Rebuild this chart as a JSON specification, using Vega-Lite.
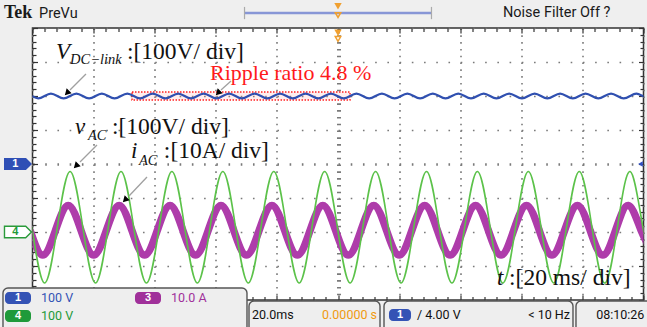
{
  "$schema": "https://vega.github.io/schema/vega-lite/v6.json",
  "width": 611,
  "height": 272,
  "autosize": {"type": "none"},
  "padding": {"left": 32.5, "top": 28, "right": 3.5, "bottom": 27},
  "background": "#efefef",
  "view": {"fill": "#ffffff", "stroke": "#333333", "strokeWidth": 1.5},
  "datasets": {
    "vdc": [
      {"t":-100.22,"d":2.0},{"t":-98.13,"d":1.93},{"t":-96.05,"d":2.0},{"t":-93.97,"d":2.07},{"t":-91.88,"d":2.0},
      {"t":-89.8,"d":1.93},{"t":-87.72,"d":2.0},{"t":-85.63,"d":2.07},{"t":-83.55,"d":2.0},{"t":-81.47,"d":1.93},{"t":-79.38,"d":2.0},{"t":-77.3,"d":2.07},{"t":-75.22,"d":2.0},{"t":-73.13,"d":1.93},{"t":-71.05,"d":2.0},{"t":-68.97,"d":2.07},{"t":-66.88,"d":2.0},
      {"t":-64.8,"d":1.93},{"t":-62.72,"d":2.0},{"t":-60.63,"d":2.07},{"t":-58.55,"d":2.0},{"t":-56.47,"d":1.93},{"t":-54.38,"d":2.0},{"t":-52.3,"d":2.07},{"t":-50.22,"d":2.0},{"t":-48.13,"d":1.93},{"t":-46.05,"d":2.0},{"t":-43.97,"d":2.07},{"t":-41.88,"d":2.0},
      {"t":-39.8,"d":1.93},{"t":-37.72,"d":2.0},{"t":-35.63,"d":2.07},{"t":-33.55,"d":2.0},{"t":-31.47,"d":1.93},{"t":-29.38,"d":2.0},{"t":-27.3,"d":2.07},{"t":-25.22,"d":2.0},{"t":-23.13,"d":1.93},{"t":-21.05,"d":2.0},{"t":-18.97,"d":2.07},{"t":-16.88,"d":2.0},
      {"t":-14.8,"d":1.93},{"t":-12.72,"d":2.0},{"t":-10.63,"d":2.07},{"t":-8.55,"d":2.0},{"t":-6.47,"d":1.93},{"t":-4.38,"d":2.0},{"t":-2.3,"d":2.07},{"t":-0.22,"d":2.0},{"t":1.87,"d":1.93},{"t":3.95,"d":2.0},{"t":6.03,"d":2.07},{"t":8.12,"d":2.0},
      {"t":10.2,"d":1.93},{"t":12.28,"d":2.0},{"t":14.37,"d":2.07},{"t":16.45,"d":2.0},{"t":18.53,"d":1.93},{"t":20.62,"d":2.0},{"t":22.7,"d":2.07},{"t":24.78,"d":2.0},{"t":26.87,"d":1.93},{"t":28.95,"d":2.0},{"t":31.03,"d":2.07},{"t":33.12,"d":2.0},
      {"t":35.2,"d":1.93},{"t":37.28,"d":2.0},{"t":39.37,"d":2.07},{"t":41.45,"d":2.0},{"t":43.53,"d":1.93},{"t":45.62,"d":2.0},{"t":47.7,"d":2.07},{"t":49.78,"d":2.0},{"t":51.87,"d":1.93},{"t":53.95,"d":2.0},{"t":56.03,"d":2.07},{"t":58.12,"d":2.0},
      {"t":60.2,"d":1.93},{"t":62.28,"d":2.0},{"t":64.37,"d":2.07},{"t":66.45,"d":2.0},{"t":68.53,"d":1.93},{"t":70.62,"d":2.0},{"t":72.7,"d":2.07},{"t":74.78,"d":2.0},{"t":76.87,"d":1.93},{"t":78.95,"d":2.0},{"t":81.03,"d":2.07},{"t":83.12,"d":2.0},
      {"t":85.2,"d":1.93},{"t":87.28,"d":2.0},{"t":89.37,"d":2.07},{"t":91.45,"d":2.0},{"t":93.53,"d":1.93},{"t":95.62,"d":2.0},{"t":97.7,"d":2.07},{"t":99.78,"d":2.0},{"t":101.87,"d":1.93}
    ],
    "vac": [
      {"t":-100.2,"d":-1.86},{"t":-96.03,"d":-3.5},{"t":-91.87,"d":-1.86},
      {"t":-87.7,"d":-0.22},{"t":-83.53,"d":-1.86},{"t":-79.37,"d":-3.5},{"t":-75.2,"d":-1.86},
      {"t":-71.03,"d":-0.22},{"t":-66.87,"d":-1.86},{"t":-62.7,"d":-3.5},{"t":-58.53,"d":-1.86},
      {"t":-54.37,"d":-0.22},{"t":-50.2,"d":-1.86},{"t":-46.03,"d":-3.5},{"t":-41.87,"d":-1.86},
      {"t":-37.7,"d":-0.22},{"t":-33.53,"d":-1.86},{"t":-29.37,"d":-3.5},{"t":-25.2,"d":-1.86},
      {"t":-21.03,"d":-0.22},{"t":-16.87,"d":-1.86},{"t":-12.7,"d":-3.5},{"t":-8.53,"d":-1.86},
      {"t":-4.37,"d":-0.22},{"t":-0.2,"d":-1.86},{"t":3.97,"d":-3.5},{"t":8.13,"d":-1.86},
      {"t":12.3,"d":-0.22},{"t":16.47,"d":-1.86},{"t":20.63,"d":-3.5},{"t":24.8,"d":-1.86},
      {"t":28.97,"d":-0.22},{"t":33.13,"d":-1.86},{"t":37.3,"d":-3.5},{"t":41.47,"d":-1.86},
      {"t":45.63,"d":-0.22},{"t":49.8,"d":-1.86},{"t":53.97,"d":-3.5},{"t":58.13,"d":-1.86},
      {"t":62.3,"d":-0.22},{"t":66.47,"d":-1.86},{"t":70.63,"d":-3.5},{"t":74.8,"d":-1.86},
      {"t":78.97,"d":-0.22},{"t":83.13,"d":-1.86},{"t":87.3,"d":-3.5},{"t":91.47,"d":-1.86},
      {"t":95.63,"d":-0.22},{"t":99.8,"d":-1.86},{"t":103.97,"d":-3.5}
    ],
    "iac": [
      {"t":-100.8,"d":-1.95},{"t":-96.63,"d":-2.68},{"t":-92.47,"d":-1.95},
      {"t":-88.3,"d":-1.22},{"t":-84.13,"d":-1.95},{"t":-79.97,"d":-2.68},{"t":-75.8,"d":-1.95},
      {"t":-71.63,"d":-1.22},{"t":-67.47,"d":-1.95},{"t":-63.3,"d":-2.68},{"t":-59.13,"d":-1.95},
      {"t":-54.97,"d":-1.22},{"t":-50.8,"d":-1.95},{"t":-46.63,"d":-2.68},{"t":-42.47,"d":-1.95},
      {"t":-38.3,"d":-1.22},{"t":-34.13,"d":-1.95},{"t":-29.97,"d":-2.68},{"t":-25.8,"d":-1.95},
      {"t":-21.63,"d":-1.22},{"t":-17.47,"d":-1.95},{"t":-13.3,"d":-2.68},{"t":-9.13,"d":-1.95},
      {"t":-4.97,"d":-1.22},{"t":-0.8,"d":-1.95},{"t":3.37,"d":-2.68},{"t":7.53,"d":-1.95},
      {"t":11.7,"d":-1.22},{"t":15.87,"d":-1.95},{"t":20.03,"d":-2.68},{"t":24.2,"d":-1.95},
      {"t":28.37,"d":-1.22},{"t":32.53,"d":-1.95},{"t":36.7,"d":-2.68},{"t":40.87,"d":-1.95},
      {"t":45.03,"d":-1.22},{"t":49.2,"d":-1.95},{"t":53.37,"d":-2.68},{"t":57.53,"d":-1.95},
      {"t":61.7,"d":-1.22},{"t":65.87,"d":-1.95},{"t":70.03,"d":-2.68},{"t":74.2,"d":-1.95},
      {"t":78.37,"d":-1.22},{"t":82.53,"d":-1.95},{"t":86.7,"d":-2.68},{"t":90.87,"d":-1.95},
      {"t":95.03,"d":-1.22},{"t":99.2,"d":-1.95},{"t":103.37,"d":-2.68}
    ],
    "redbox": [{"t1":-67.43,"t2":3.93,"d1":2.118,"d2":1.882}],
    "arrows": [
      {"t1":-82.49,"d1":2.647,"t2":-87.73,"d2":2.176,"th":-88.71,"dh":2.088},
      {"t1":-35.02,"d1":2.441,"t2":-38.3,"d2":2.176,"th":-39.28,"dh":2.088},
      {"t1":-78.89,"d1":0.559,"t2":-84.45,"d2":0.059,"th":-85.76,"dh":-0.059},
      {"t1":-62.52,"d1":-0.382,"t2":-68.41,"d2":-0.941,"th":-69.72,"dh":-1.059}
    ],
    "ann": [
      {"t":-69.1,"d":3.088,"s":":[100V/ div]"},
      {"t":-74.0,"d":0.882,"s":":[100V/ div]"},
      {"t":-57.0,"d":0.176,"s":":[10A/ div]"},
      {"t":56.0,"d":-3.559,"s":":[20 ms/ div]"}
    ],
    "annI": [
      {"t":-92.31,"d":3.088,"s":"V"},
      {"t":-86.09,"d":0.882,"s":"v"},
      {"t":-67.76,"d":0.176,"s":"i"},
      {"t":52.04,"d":-3.559,"s":"t"}
    ],
    "annSub": [
      {"t":-87.73,"d":2.941,"s":"DC−link"},
      {"t":-81.83,"d":0.706,"s":"AC"},
      {"t":-65.14,"d":-0.029,"s":"AC"}
    ],
    "ripple": [{"t":-41.9,"d":2.471,"s":"Ripple ratio 4.8 %"}],
    "tek": [{"t":-109.33,"d":4.294,"s":"Tek"}],
    "hdr": [{"t":-97.87,"d":4.294,"s":"PreVu"},{"t":54.0,"d":4.324,"s":"Noise Filter Off ?"}],
    "bar": [{"t1":-30.6,"t2":30.6,"d":4.441}],
    "brk": [{"t":-30.6,"d1":4.62,"d2":4.26},{"t":30.6,"d1":4.62,"d2":4.26}],
    "trig": [{"t":0,"d":4.64},{"t":0,"d":3.86}],
    "trig2": [{"t":0,"d":4.38},{"t":0,"d":3.68}],
    "ch1": [{"t":-104.75,"d":0}],
    "ch4": [{"t":-104.75,"d":-2}],
    "chtxt": [{"t":-105.6,"d":0,"s":"1","c":"w"},{"t":-105.6,"d":-2,"s":"4","c":"g"}],
    "redge": [{"t":99,"d":0}],
    "panels": [
      {"t1":-109.66,"t2":-29.79,"d1":-3.647,"d2":-4.95},
      {"t1":-29.13,"t2":13.75,"d1":-4.03,"d2":-4.95},
      {"t1":15.06,"t2":76.92,"d1":-4.03,"d2":-4.95},
      {"t1":77.9,"t2":103,"d1":-4.03,"d2":-4.95}
    ],
    "badges": [
      {"t1":-109.0,"t2":-100.49,"d1":-3.765,"d2":-4.118,"c":"b"},
      {"t1":-66.45,"t2":-57.94,"d1":-3.765,"d2":-4.118,"c":"p"},
      {"t1":-109.0,"t2":-100.49,"d1":-4.294,"d2":-4.647,"c":"g"},
      {"t1":16.69,"t2":23.9,"d1":-4.265,"d2":-4.618,"c":"b"}
    ],
    "badgeText": [
      {"t":-104.75,"d":-3.941,"s":"1"},
      {"t":-62.19,"d":-3.941,"s":"3"},
      {"t":-104.75,"d":-4.471,"s":"4"},
      {"t":20.29,"d":-4.441,"s":"1"}
    ],
    "foot": [
      {"t":-97.22,"d":-3.941,"s":"100 V","c":"b"},
      {"t":-54.67,"d":-3.941,"s":"10.0 A","c":"p"},
      {"t":-97.22,"d":-4.471,"s":"100 V","c":"g"},
      {"t":-28.15,"d":-4.441,"s":"20.0ms","c":"k"},
      {"t":25.86,"d":-4.441,"s":"/ 4.00 V","c":"k"},
      {"t":84.5,"d":-4.441,"s":"08:10:26","c":"k"}
    ],
    "footR": [
      {"t":12.77,"d":-4.441,"s":"0.00000 s","c":"o"},
      {"t":75.94,"d":-4.441,"s":"< 10 Hz","c":"k"}
    ]
  },
  "encoding": {
    "x": {"field": "t", "type": "quantitative", "scale": {"domain": [-100, 100], "nice": false, "zero": false}, "axis": null},
    "y": {"field": "d", "type": "quantitative", "scale": {"domain": [-4, 4], "nice": false, "zero": false}, "axis": null}
  },
  "layer": [
    {
      "data": {"name": "redbox"},
      "mark": {"type": "rect", "fill": "#ff9090", "fillOpacity": 0.15, "stroke": "#ff2020", "strokeWidth": 1.4, "strokeDash": [1.5, 1.5]},
      "encoding": {
        "x": {"field": "t1", "type": "quantitative", "scale": {"domain": [-100, 100], "nice": false, "zero": false}, "axis": null},
        "x2": {"field": "t2"},
        "y": {"field": "d1", "type": "quantitative", "scale": {"domain": [-4, 4], "nice": false, "zero": false}, "axis": null},
        "y2": {"field": "d2"}
      }
    },
    {
      "data": {"name": "vdc"},
      "mark": {"type": "line", "interpolate": "natural", "clip": true, "color": "#3050b0", "strokeWidth": 2.2},
      "encoding": {}
    },
    {
      "data": {"name": "iac"},
      "mark": {"type": "line", "interpolate": "natural", "clip": true, "color": "#ae3caa", "strokeWidth": 7.5},
      "encoding": {
        "x": {"field": "t", "type": "quantitative", "scale": {"domain": [-100, 100], "nice": false, "zero": false},
          "axis": {"orient": "top", "values": [-100,-96,-92,-88,-84,-80,-76,-72,-68,-64,-60,-56,-52,-48,-44,-40,-36,-32,-28,-24,-20,-16,-12,-8,-4,0,4,8,12,16,20,24,28,32,36,40,44,48,52,56,60,64,68,72,76,80,84,88,92,96,100],
            "labels": false, "title": null, "domain": false, "grid": false, "ticks": true, "tickColor": "#333333", "tickWidth": 1.2,
            "tickSize": {"condition": {"test": "datum.value % 20 === 0", "value": -5}, "value": -3.5}}},
        "y": {"field": "d", "type": "quantitative", "scale": {"domain": [-4, 4], "nice": false, "zero": false},
          "axis": {"orient": "right", "values": [-4,-3.8,-3.6,-3.4,-3.2,-3,-2.8,-2.6,-2.4,-2.2,-2,-1.8,-1.6,-1.4,-1.2,-1,-0.8,-0.6,-0.4,-0.2,0,0.2,0.4,0.6,0.8,1,1.2,1.4,1.6,1.8,2,2.2,2.4,2.6,2.8,3,3.2,3.4,3.6,3.8,4],
            "labels": false, "title": null, "domain": false, "grid": false, "ticks": true, "tickColor": "#333333", "tickWidth": 1.2,
            "tickSize": {"condition": {"test": "abs(datum.value - round(datum.value)) < 0.01", "value": -5}, "value": -3.5}}}
      }
    },
    {
      "data": {"name": "vac"},
      "mark": {"type": "line", "interpolate": "natural", "clip": true, "color": "#5cc24a", "strokeWidth": 1.6},
      "encoding": {
        "x": {"field": "t", "type": "quantitative", "scale": {"domain": [-100, 100], "nice": false, "zero": false},
          "axis": {"orient": "bottom", "values": [-100,-96,-92,-88,-84,-80,-76,-72,-68,-64,-60,-56,-52,-48,-44,-40,-36,-32,-28,-24,-20,-16,-12,-8,-4,0,4,8,12,16,20,24,28,32,36,40,44,48,52,56,60,64,68,72,76,80,84,88,92,96,100],
            "labels": false, "title": null, "domain": false, "ticks": true, "tickColor": "#333333", "tickWidth": 1.2,
            "tickSize": {"condition": {"test": "datum.value % 20 === 0", "value": -5}, "value": -3.5},
            "grid": true, "gridColor": "#7a7a7a", "gridDash": [1.6, 5.2],
            "gridWidth": {"condition": {"test": "datum.value === 0", "value": 4}, "value": 1.6},
            "gridOpacity": {"condition": {"test": "datum.value % 20 === 0", "value": 1}, "value": 0}}},
        "y": {"field": "d", "type": "quantitative", "scale": {"domain": [-4, 4], "nice": false, "zero": false},
          "axis": {"orient": "left", "values": [-4,-3.8,-3.6,-3.4,-3.2,-3,-2.8,-2.6,-2.4,-2.2,-2,-1.8,-1.6,-1.4,-1.2,-1,-0.8,-0.6,-0.4,-0.2,0,0.2,0.4,0.6,0.8,1,1.2,1.4,1.6,1.8,2,2.2,2.4,2.6,2.8,3,3.2,3.4,3.6,3.8,4],
            "labels": false, "title": null, "domain": false, "ticks": true, "tickColor": "#333333", "tickWidth": 1.2,
            "tickSize": {"condition": {"test": "abs(datum.value - round(datum.value)) < 0.01", "value": -5}, "value": -3.5},
            "grid": true, "gridColor": "#7a7a7a", "gridDash": [1.6, 10.62],
            "gridWidth": {"condition": {"test": "abs(datum.value) < 0.01", "value": 2.6}, "value": 1.6},
            "gridOpacity": {"condition": {"test": "abs(datum.value - round(datum.value)) < 0.01", "value": 1}, "value": 0}}}
      }
    },
    {
      "data": {"name": "arrows"},
      "mark": {"type": "rule", "color": "#a0a0a0", "strokeWidth": 1.3},
      "encoding": {
        "x": {"field": "t1", "type": "quantitative", "scale": {"domain": [-100, 100], "nice": false, "zero": false}, "axis": null},
        "x2": {"field": "t2"},
        "y": {"field": "d1", "type": "quantitative", "scale": {"domain": [-4, 4], "nice": false, "zero": false}, "axis": null},
        "y2": {"field": "d2"}
      }
    },
    {
      "data": {"name": "arrows"},
      "mark": {"type": "point", "shape": "triangle-up", "filled": true, "color": "#000000", "opacity": 1, "size": 50, "angle": 225},
      "encoding": {
        "x": {"field": "th", "type": "quantitative", "scale": {"domain": [-100, 100], "nice": false, "zero": false}, "axis": null},
        "y": {"field": "dh", "type": "quantitative", "scale": {"domain": [-4, 4], "nice": false, "zero": false}, "axis": null}
      }
    },
    {
      "data": {"name": "ann"},
      "mark": {"type": "text", "font": "Liberation Serif", "fontSize": 23.5, "align": "left", "baseline": "alphabetic", "color": "#111111"},
      "encoding": {"text": {"field": "s"}}
    },
    {
      "data": {"name": "annI"},
      "mark": {"type": "text", "font": "Liberation Serif", "fontSize": 23, "fontStyle": "italic", "align": "left", "baseline": "alphabetic", "color": "#111111"},
      "encoding": {"text": {"field": "s"}}
    },
    {
      "data": {"name": "annSub"},
      "mark": {"type": "text", "font": "Liberation Serif", "fontSize": 14.5, "fontStyle": "italic", "align": "left", "baseline": "alphabetic", "color": "#111111"},
      "encoding": {"text": {"field": "s"}}
    },
    {
      "data": {"name": "ripple"},
      "mark": {"type": "text", "font": "Liberation Serif", "fontSize": 22, "align": "left", "baseline": "alphabetic", "color": "#ff1a1a"},
      "encoding": {"text": {"field": "s"}}
    },
    {
      "data": {"name": "tek"},
      "mark": {"type": "text", "font": "Liberation Serif", "fontSize": 18, "fontWeight": "bold", "align": "left", "baseline": "alphabetic", "color": "#1a1a1a"},
      "encoding": {"text": {"field": "s"}}
    },
    {
      "data": {"name": "hdr"},
      "mark": {"type": "text", "font": "Roboto", "fontSize": 14.5, "align": "left", "baseline": "alphabetic", "color": "#1a1a1a"},
      "encoding": {"text": {"field": "s"}}
    },
    {
      "data": {"name": "bar"},
      "mark": {"type": "rule", "color": "#8796d6", "strokeWidth": 2.5},
      "encoding": {
        "x": {"field": "t1", "type": "quantitative", "scale": {"domain": [-100, 100], "nice": false, "zero": false}, "axis": null},
        "x2": {"field": "t2"}
      }
    },
    {
      "data": {"name": "brk"},
      "mark": {"type": "rule", "color": "#aaaaaa", "strokeWidth": 1.2},
      "encoding": {
        "y": {"field": "d1", "type": "quantitative", "scale": {"domain": [-4, 4], "nice": false, "zero": false}, "axis": null},
        "y2": {"field": "d2"}
      }
    },
    {
      "data": {"name": "trig"},
      "mark": {"type": "point", "shape": "triangle-down", "filled": true, "color": "#f0a030", "opacity": 1, "size": 55}
    },
    {
      "data": {"name": "trig2"},
      "mark": {"type": "point", "shape": "triangle-down", "filled": false, "color": "#f0a030", "opacity": 1, "size": 30, "strokeWidth": 1.5}
    },
    {
      "data": {"name": "ch1"},
      "mark": {"type": "point", "shape": "M-1,-0.43L0.57,-0.43L1,0L0.57,0.43L-1,0.43Z", "filled": true, "color": "#2f4fb5", "opacity": 1, "size": 784}
    },
    {
      "data": {"name": "ch4"},
      "mark": {"type": "point", "shape": "M-1,-0.43L0.57,-0.43L1,0L0.57,0.43L-1,0.43Z", "filled": true, "fill": "#ffffff", "stroke": "#2a9a3a", "strokeWidth": 1.4, "opacity": 1, "size": 729}
    },
    {
      "data": {"name": "chtxt"},
      "mark": {"type": "text", "font": "Liberation Sans", "fontSize": 11, "fontWeight": "bold", "align": "center", "baseline": "middle"},
      "encoding": {
        "text": {"field": "s"},
        "color": {"field": "c", "type": "nominal", "scale": {"domain": ["b","p","g","k","o","w"], "range": ["#3453b5","#a0309a","#1f9a3a","#111111","#f09a10","#ffffff"]}, "legend": null}
      }
    },
    {
      "data": {"name": "redge"},
      "mark": {"type": "point", "shape": "triangle-left", "filled": true, "color": "#3050c0", "opacity": 1, "size": 30}
    },
    {
      "data": {"name": "panels"},
      "mark": {"type": "rect", "fill": "#eeeeee", "stroke": "#555555", "strokeWidth": 1.4, "cornerRadius": 5},
      "encoding": {
        "x": {"field": "t1", "type": "quantitative", "scale": {"domain": [-100, 100], "nice": false, "zero": false}, "axis": null},
        "x2": {"field": "t2"},
        "y": {"field": "d1", "type": "quantitative", "scale": {"domain": [-4, 4], "nice": false, "zero": false}, "axis": null},
        "y2": {"field": "d2"}
      }
    },
    {
      "data": {"name": "badges"},
      "mark": {"type": "rect", "cornerRadius": 4},
      "encoding": {
        "x": {"field": "t1", "type": "quantitative", "scale": {"domain": [-100, 100], "nice": false, "zero": false}, "axis": null},
        "x2": {"field": "t2"},
        "y": {"field": "d1", "type": "quantitative", "scale": {"domain": [-4, 4], "nice": false, "zero": false}, "axis": null},
        "y2": {"field": "d2"},
        "color": {"field": "c", "type": "nominal", "scale": {"domain": ["b","p","g","k","o","w"], "range": ["#3453b5","#a0309a","#1f9a3a","#111111","#f09a10","#ffffff"]}, "legend": null}
      }
    },
    {
      "data": {"name": "badgeText"},
      "mark": {"type": "text", "font": "Liberation Sans", "fontSize": 11, "fontWeight": "bold", "align": "center", "baseline": "middle", "color": "#ffffff"},
      "encoding": {"text": {"field": "s"}}
    },
    {
      "data": {"name": "foot"},
      "mark": {"type": "text", "font": "Roboto", "fontSize": 12.5, "align": "left", "baseline": "middle"},
      "encoding": {
        "text": {"field": "s"},
        "color": {"field": "c", "type": "nominal", "scale": {"domain": ["b","p","g","k","o","w"], "range": ["#3453b5","#a0309a","#1f9a3a","#111111","#f09a10","#ffffff"]}, "legend": null}
      }
    },
    {
      "data": {"name": "footR"},
      "mark": {"type": "text", "font": "Roboto", "fontSize": 12.5, "align": "right", "baseline": "middle"},
      "encoding": {
        "text": {"field": "s"},
        "color": {"field": "c", "type": "nominal", "scale": {"domain": ["b","p","g","k","o","w"], "range": ["#3453b5","#a0309a","#1f9a3a","#111111","#f09a10","#ffffff"]}, "legend": null}
      }
    }
  ],
  "resolve": {"axis": {"x": "independent", "y": "independent"}}
}
